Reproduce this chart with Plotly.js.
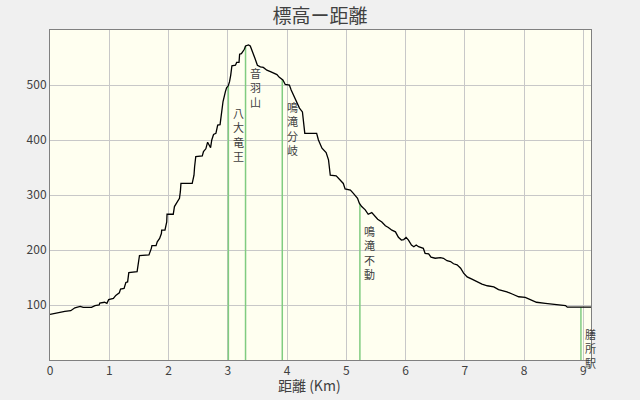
<!DOCTYPE html>
<html>
<head>
<meta charset="utf-8">
<script src="https://cdn.plot.ly/plotly-3.0.1.min.js"></script>
<style>
html,body{margin:0;padding:0;background:#f0f0f0;}
#chart{width:640px;height:400px;}
</style>
</head>
<body>
<div id="chart"></div>
<script>
const dist = [0,0.08,0.14,0.25,0.35,0.39,0.42,0.51,0.56,0.70,0.76,0.83,0.84,0.92,0.96,0.99,1.07,1.11,1.17,1.19,1.25,1.28,1.31,1.33,1.47,1.51,1.67,1.71,1.72,1.79,1.81,1.85,1.88,1.885,1.94,1.97,1.975,2.08,2.10,2.14,2.17,2.185,2.20,2.21,2.40,2.43,2.44,2.46,2.57,2.59,2.63,2.66,2.69,2.71,2.73,2.76,2.80,2.83,2.87,2.89,2.92,2.96,2.98,3.01,3.03,3.05,3.07,3.13,3.15,3.19,3.20,3.23,3.28,3.30,3.35,3.38,3.42,3.46,3.50,3.55,3.60,3.66,3.73,3.78,3.83,3.87,3.93,3.97,4.04,4.07,4.11,4.15,4.21,4.26,4.30,4.50,4.53,4.59,4.66,4.70,4.73,4.83,4.89,4.95,4.98,5.07,5.12,5.19,5.22,5.26,5.32,5.37,5.43,5.49,5.53,5.60,5.66,5.71,5.77,5.83,5.88,5.93,5.97,6.01,6.05,6.10,6.14,6.18,6.22,6.30,6.33,6.39,6.43,6.50,6.59,6.64,6.70,6.76,6.81,6.87,6.93,6.98,7.04,7.12,7.21,7.29,7.38,7.49,7.57,7.71,7.80,7.91,8.02,8.11,8.21,8.36,8.56,8.70,8.73,8.95,9.13];
const elev = [83,85,87,88.5,89.7,92,95,97.5,95.7,95.7,98.8,100,103.6,105,103,109.7,112,117.5,122,129,130,141,142,159,160.6,190,191,203,208,208,215,221,230,236,236,251,265,265,279,286,291,294,306,321,321,336,351,370,371,379,384,396,390,386,400,410,412,427,428,448,470,488,495,499,506,518,535,536,541,541,556,557,565,571,573,571,561,548,536,533,532,527,524,522,519,514,509,501,500,491,482,473,458,451,412,412,400,385,377,364,336,335,327,321,311,309,303,294,285,279,273,265,268,261,256,251,244,241,236,233,223,218,219,223,218,209,206,209,206,203,194,193,187,185,186,185,180.5,179,175,173,167,158,151,147,142,138,135,133,128,124,120,115,114,110,105,103,100,99,96,96,96];

// Landmarks along the route
const landmarkNames = ['八大竜王','音羽山','鳴滝分岐','鳴滝不動','膳所駅'];
const landmarkDist = [3.01, 3.30, 3.92, 5.23, 8.96];

const xTickVals = [0,1,2,3,4,5,6,7,8,9];
const yTickVals = [100,200,300,400,500];

function elevAt(x){
  for(let i=1;i<dist.length;i++){
    if(x<=dist[i]){
      const t=(x-dist[i-1])/(dist[i]-dist[i-1]);
      return elev[i-1]+t*(elev[i]-elev[i-1]);
    }
  }
  return elev[elev.length-1];
}

const font = "'Noto Sans CJK JP', 'DejaVu Sans', sans-serif";
const textColor = '#404040';

const traces = [];
landmarkDist.forEach(function(d){
  traces.push({x:[d,d], y:[0, elevAt(d)], mode:'lines', type:'scatter',
    line:{color:'#80cc80', width:1.5}, hoverinfo:'skip', showlegend:false});
});
traces.push({x:dist, y:elev, mode:'lines', type:'scatter',
  line:{color:'#000000', width:1.3}, hoverinfo:'skip', showlegend:false});

const annotations = [];
landmarkNames.forEach(function(name, i){
  const top = elevAt(landmarkDist[i]);
  annotations.push({x:landmarkDist[i], y:top, xref:'x', yref:'y',
    text:Array.from(name).join('<br>'), showarrow:false,
    xanchor:'center', yanchor:'top', xshift:10, yshift:-17,
    font:{family:font, size:11, color:textColor}});
});
annotations.push({x:0.479, y:-0.075, xref:'paper', yref:'paper', text:'距離 (Km)', showarrow:false,
  xanchor:'center', yanchor:'middle', font:{family:font, size:14, color:textColor}});

const layout = {
  width:640, height:400,
  paper_bgcolor:'#f0f0f0', plot_bgcolor:'#fffff0',
  margin:{l:50, r:49, t:30, b:40},
  title:{text:'標高ー距離', x:0.5, xanchor:'center', y:0.96, yanchor:'middle',
    font:{family:font, size:19, color:textColor}},
  xaxis:{range:[0,9.13], tickvals:xTickVals, ticktext:xTickVals.map(String),
    showgrid:true, gridcolor:'#c8c8c8', gridwidth:1, zeroline:false,
    showline:true, linecolor:'#808080', linewidth:1, mirror:true, ticks:'',
    tickfont:{family:font, size:12, color:textColor}},
  yaxis:{range:[0,600], tickvals:yTickVals, ticktext:yTickVals.map(String),
    showgrid:true, gridcolor:'#c8c8c8', gridwidth:1, zeroline:false,
    showline:true, linecolor:'#808080', linewidth:1, mirror:true, ticks:'',
    tickfont:{family:font, size:12, color:textColor}},
  annotations:annotations,
  hovermode:false
};

Plotly.newPlot('chart', traces, layout, {displayModeBar:false, staticPlot:true});
</script>
</body>
</html>
